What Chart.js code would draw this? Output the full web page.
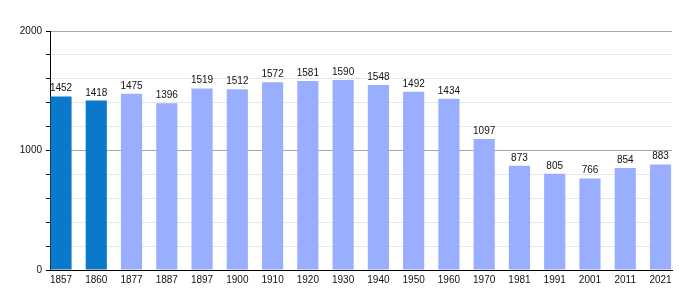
<!DOCTYPE html>
<html>
<head>
<meta charset="utf-8">
<script src="https://cdn.jsdelivr.net/npm/chart.js@4/dist/chart.umd.min.js"></script>
<style>
  html, body { margin: 0; padding: 0; background: #fff; }
</style>
</head>
<body>
<canvas id="popChart" width="700" height="300"></canvas>
<script>
// population by census year
const years = ['1857', '1860', '1877', '1887', '1897', '1900', '1910', '1920', '1930',
    '1940', '1950', '1960', '1970', '1981', '1991', '2001', '2011', '2021'];
const population = [1452, 1418, 1475, 1396, 1519, 1512, 1572, 1581, 1590,
    1548, 1492, 1434, 1097, 873, 805, 766, 854, 883];
const yTickLabels = [0, 1000, 2000];

const darkBlue = '#0A78CB';
const lightBlue = '#9AAEFF';

// draws the numbers above each bar
const barValues = {
    id: 'barValues',
    afterDatasetsDraw(chart) {
        const ctx = chart.ctx;
        const meta = chart.getDatasetMeta(0);
        ctx.save();
        ctx.font = '10px "Liberation Sans", Arial, sans-serif';
        ctx.fillStyle = '#111';
        ctx.textAlign = 'center';
        ctx.textBaseline = 'alphabetic';
        meta.data.forEach(function (bar, i) {
            ctx.fillText(String(population[i]), bar.x, bar.y - 5);
        });
        ctx.restore();
    }
};

const points = population.map(function (v, i) { return { x: i, y: v }; });

var popChart = new Chart('popChart', {
    type: 'bar',
    data: {
        datasets: [{
            data: points,
            backgroundColor: population.map(function (v, i) { return i < 2 ? darkBlue : lightBlue; }),
            borderWidth: 0,
            categoryPercentage: 1,
            barPercentage: 0.6
        }]
    },
    options: {
        responsive: false,
        animation: false,
        devicePixelRatio: 1,
        layout: { padding: { top: 31, right: 28, left: 0, bottom: 0 } },
        plugins: {
            legend: { display: false },
            tooltip: { enabled: false }
        },
        scales: {
            x: {
                type: 'linear',
                offset: false,
                min: -0.312,
                max: 17.326,
                afterFit: function (scale) { scale.height = 30; },
                afterBuildTicks: function (scale) {
                    scale.ticks = years.map(function (y, i) { return { value: i }; });
                },
                ticks: {
                    autoSkip: false,
                    maxRotation: 0,
                    color: '#111',
                    padding: 4,
                    font: { family: '"Liberation Sans", Arial, sans-serif', size: 10 },
                    callback: function (value) { return years[value]; }
                },
                grid: { display: false, drawTicks: false, offset: false },
                border: { color: '#000', width: 1 }
            },
            y: {
                min: 0,
                max: 2000,
                afterFit: function (scale) { scale.width = 50; },
                ticks: {
                    stepSize: 200,
                    color: '#111',
                    padding: 4,
                    font: { family: '"Liberation Sans", Arial, sans-serif', size: 10 },
                    callback: function (value) {
                        return yTickLabels.indexOf(value) >= 0 ? String(value) : '';
                    }
                },
                grid: {
                    tickLength: 4,
                    tickColor: '#000',
                    color: function (c) {
                        return c.tick && c.tick.value % 1000 === 0 ? '#a8a8a8' : '#e6e6e6';
                    }
                },
                border: { color: '#000', width: 1 }
            }
        }
    },
    plugins: [barValues]
});
</script>
</body>
</html>
